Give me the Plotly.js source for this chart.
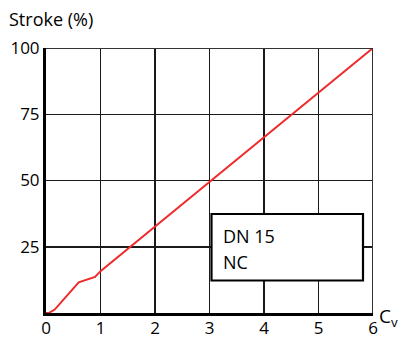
<!DOCTYPE html>
<html><head><meta charset="utf-8">
<script src="https://cdn.plot.ly/plotly-3.0.1.min.js"></script>
<style>body{margin:0;padding:0;background:#fff}#c{width:404px;height:338px}</style>
</head><body><div id="c"></div>
<script>
const cv = [0, 0.05, 0.16, 0.6, 0.9, 1.0, 6];
const stroke = [0, 0, 1.3, 11.6, 13.6, 15.8, 100];
const xTicks = [0, 1, 2, 3, 4, 5, 6];
const yTicks = [25, 50, 75, 100];
const legendLines = ["DN 15", "NC"];
const yTitle = "Stroke (%)";
const xTitle = "C<sub>v</sub>";

const ff = "Open Sans, Noto Sans, sans-serif";
const f = (s) => ({family: ff, size: s, color: "#000"});
const data = [{x: cv, y: stroke, mode: "lines", line: {color: "#ee2a2a", width: 2}, hoverinfo: "skip"}];
const layout = {
  width: 404, height: 338,
  margin: {l: 46, r: 31, t: 48, b: 25},
  paper_bgcolor: "#fff", plot_bgcolor: "#fff",
  showlegend: false,
  font: f(17),
  xaxis: {range: [0, 6], tickvals: xTicks, ticktext: xTicks.map(String), showgrid: true, gridcolor: "#1a1a1a", gridwidth: 1.5,
    showline: true, linecolor: "#000", linewidth: 3, zeroline: false, ticks: "", ticklabelstandoff: -2, fixedrange: true,
    tickfont: f(17)},
  yaxis: {range: [0, 100], tickvals: yTicks, ticktext: yTicks.map(String), showgrid: true, gridcolor: "#1a1a1a", gridwidth: 1.5,
    showline: true, linecolor: "#000", linewidth: 3, zeroline: false, ticks: "", ticklabelstandoff: 0, fixedrange: true,
    tickfont: f(17)},
  shapes: [
    {type: "line", xref: "x", yref: "y", x0: 6, x1: 6, y0: 0, y1: 100, line: {color: "#333", width: 2}},
    {type: "line", xref: "x", yref: "y", x0: 0, x1: 6, y0: 100, y1: 100, line: {color: "#333", width: 2}},
    {type: "rect", xref: "paper", yref: "paper", x0: (211.5-46)/327, x1: (363-46)/327, y0: (313-280.5)/265, y1: (313-214)/265,
      fillcolor: "#fff", line: {color: "#000", width: 2.2}, layer: "above"}
  ],
  annotations: [
    {xref: "paper", yref: "paper", x: (221-46)/327, y: (313-236)/265, xanchor: "left", yanchor: "middle", showarrow: false,
      text: legendLines[0], font: f(18)},
    {xref: "paper", yref: "paper", x: (221-46)/327, y: (313-262)/265, xanchor: "left", yanchor: "middle", showarrow: false,
      text: legendLines[1], font: f(18)},
    {xref: "paper", yref: "paper", x: -46/327, y: (313-19)/265, xanchor: "left", yanchor: "middle", showarrow: false,
      xshift: 7, text: yTitle, font: f(18)},
    {xref: "paper", yref: "paper", x: (377-46)/327, y: (313-317)/265, xanchor: "left", yanchor: "middle", showarrow: false,
      text: xTitle, font: f(19)}
  ]
};
Plotly.newPlot("c", data, layout, {displayModeBar: false, staticPlot: true});
</script></body></html>
